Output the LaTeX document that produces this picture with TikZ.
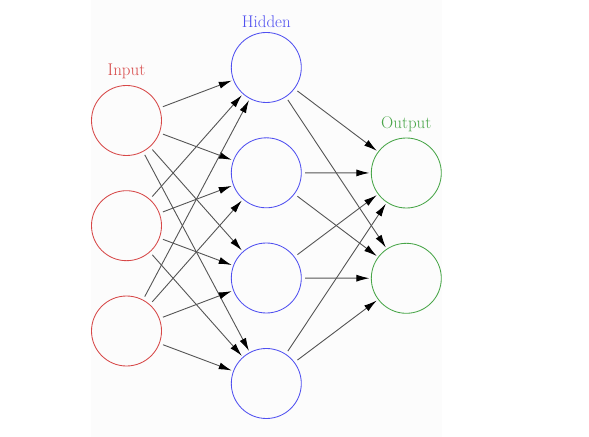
\documentclass[tikz,border=0pt]{standalone}
\usetikzlibrary{arrows.meta}
\definecolor{inred}{RGB}{215,72,72}
\definecolor{hidblue}{RGB}{80,80,240}
\definecolor{outgreen}{RGB}{72,165,72}
\definecolor{bgpale}{RGB}{252,252,252}
\definecolor{edgegray}{RGB}{85,85,85}
\tikzset{
  neuron/.style={circle, draw, line width=0.85bp, minimum size=70bp, inner sep=0pt},
  inneuron/.style={neuron, draw=inred},
  hidneuron/.style={neuron, draw=hidblue},
  outneuron/.style={neuron, draw=outgreen},
  layerlabel/.style={font=\fontsize{17}{19}\selectfont, anchor=base, inner sep=0pt},
  conn/.style={draw=edgegray, line width=0.9bp, -{Latex[length=13bp,width=7bp,color=black]}, shorten <=3.5bp, shorten >=1.5bp}
}
\begin{document}
\begin{tikzpicture}[x=1bp,y=-1bp]
\useasboundingbox (0,0) rectangle (589,437);
\fill[bgpale] (91,0) rectangle (442,437);
% input layer
\node[inneuron] (i1) at (126.5,120.5) {};
\node[inneuron] (i2) at (126.5,225.7) {};
\node[inneuron] (i3) at (126.5,331) {};
% hidden layer
\node[hidneuron] (h1) at (266.3,67.5) {};
\node[hidneuron] (h2) at (266.3,172.8) {};
\node[hidneuron] (h3) at (266.3,278) {};
\node[hidneuron] (h4) at (266.3,383.5) {};
% output layer
\node[outneuron] (o1) at (406.3,173) {};
\node[outneuron] (o2) at (406.3,278.3) {};
% labels
\node[layerlabel, text=inred] (lin) at (126.5,76) {Input};
\node[layerlabel, text=hidblue] (lhid) at (266.3,27.5) {Hidden};
\node[layerlabel, text=outgreen] (lout) at (406.3,128.8) {Output};
% connections
\foreach \i in {1,2,3}
  \foreach \h in {1,2,3,4}
    \draw[conn] (i\i) -- (h\h);
\foreach \h in {1,2,3,4}
  \foreach \o in {1,2}
    \draw[conn] (h\h) -- (o\o);
\end{tikzpicture}
\end{document}
